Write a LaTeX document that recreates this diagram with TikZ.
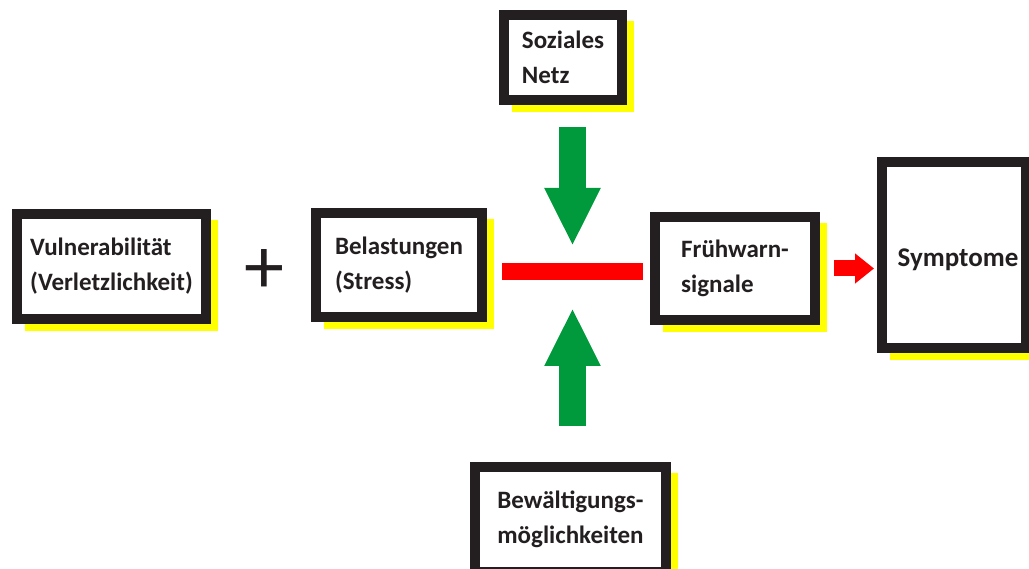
\documentclass[tikz,border=0pt]{standalone}
\usepackage{fontspec}
\setmainfont{Carlito}
\usetikzlibrary{arrows.meta,backgrounds,calc}
\definecolor{bord}{HTML}{231F20}
\definecolor{shyel}{HTML}{FFFF00}
\definecolor{grn}{HTML}{009A3D}
\definecolor{rd}{HTML}{FF0000}
\tikzset{
  box/.style={draw=bord, line width=10pt, fill=white, rectangle, inner sep=0pt, outer sep=0pt,
    align=left, font=\fontsize{25}{35}\selectfont\bfseries, text=bord},
  greenarrow/.style={draw=grn, line width=27pt, -{Triangle[length=58pt,width=52pt]}},
  redarrow/.style={draw=rd, line width=16pt, -{Triangle[length=19pt,width=29pt]}},
  shadowbox/.style={fill=shyel},
}
\begin{document}
\begin{tikzpicture}[x=1pt,y=-1pt]
\useasboundingbox (0,0) rectangle (1029,569);
\clip (0,0) rectangle (1029,569);

\node[box, minimum width=189pt, minimum height=105pt] (vul) at (111.5,266.5) {Vulnerabilität\\(Verletzlichkeit)};
\node[box, minimum width=166pt, minimum height=104pt] (bel) at (399,265) {Belastungen\\(Stress)};
\node[box, minimum width=118pt, minimum height=85pt] (soz) at (563,57.5) {Soziales\\Netz};
\node[box, minimum width=160pt, minimum height=103pt] (fru) at (735,268.5) {Frühwarn-\\signale};
\node[box, minimum width=144pt, minimum height=186pt, font=\fontsize{27}{35}\selectfont\bfseries] (sym) at (954,255) {\hspace*{8pt}\raisebox{-12pt}[0pt][0pt]{Symptome}};
\node[box, minimum width=191pt, minimum height=105pt] (bew) at (570.5,519.5) {Bewältigungs-\\möglichkeiten};

\begin{scope}[on background layer]
  \fill[white] (0,0) rectangle (1029,569);
  \foreach \n in {vul,bel,soz,fru,sym,bew}
    \fill[shadowbox] ($(\n.north west)+(8,6)$) rectangle ($(\n.south east)+(12,12)$);
\end{scope}

\node[text=bord, inner sep=0pt, font=\fontsize{80}{80}\selectfont] (plus) at (264,272) {+};

\node[fill=rd, minimum width=141pt, minimum height=17pt, inner sep=0pt, outer sep=0pt] (bar) at (572.5,271.5) {};

\draw[greenarrow, shorten <=27pt, shorten >=17pt] (soz.south -| bar.north) -- (bar.north);
\draw[greenarrow, shorten <=41pt, shorten >=28pt] (bew.north -| bar.south) -- (bar.south);
\draw[redarrow, shorten <=19pt, shorten >=8pt] (fru.east) -- (fru.east -| sym.west);
\end{tikzpicture}
\end{document}
